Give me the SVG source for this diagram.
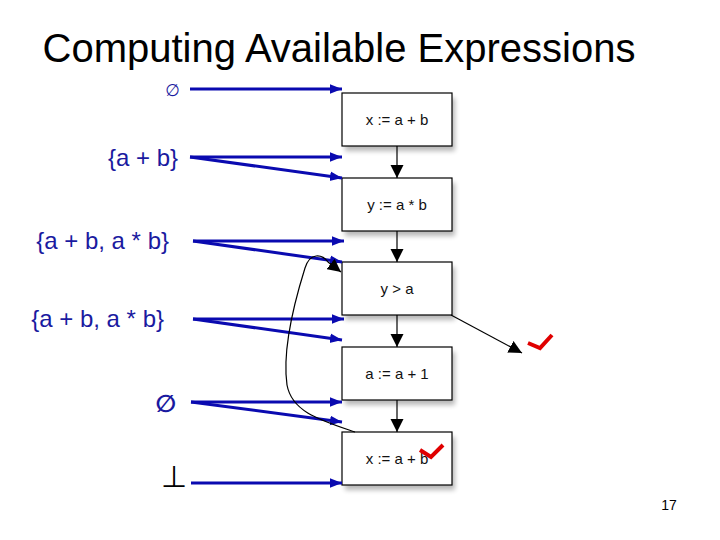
<svg xmlns="http://www.w3.org/2000/svg" width="720" height="540" viewBox="0 0 720 540">
<defs>
<style>
.box{fill:#fff;stroke:#000;stroke-width:1.2}
.sh{fill:#000;opacity:0.28}
.bt{font-family:"Liberation Sans",Arial,sans-serif;font-size:15px;fill:#111;text-anchor:middle}
.lbl{font-family:"Liberation Sans",Arial,sans-serif;font-size:24px;fill:#1a1aa0;text-anchor:end}
.blue{stroke:#0a0ab0;stroke-width:3;fill:none}
.blk{stroke:#000;stroke-width:1.2;fill:none}
.chk{stroke:#e00000;stroke-width:4;fill:none;stroke-linejoin:miter}
</style>
<marker id="ab" viewBox="0 0 10 10" refX="10" refY="5" markerWidth="4" markerHeight="4" markerUnits="strokeWidth" orient="auto"><path d="M0,1 L10,5 L0,9 z" fill="#0a0ab0"/></marker>
<marker id="ak" viewBox="0 0 10 10" refX="10" refY="5" markerWidth="11" markerHeight="11" markerUnits="strokeWidth" orient="auto"><path d="M0,0 L10,5 L0,10 z" fill="#000"/></marker>
<filter id="blur" x="-20%" y="-20%" width="140%" height="160%"><feGaussianBlur stdDeviation="2.5"/></filter>
</defs>
<rect width="720" height="540" fill="#fff"/>
<text x="339" y="62" font-family="'Liberation Sans',Arial,sans-serif" font-size="40" text-anchor="middle" fill="#000">Computing Available Expressions</text>

<g id="n1"><rect class="sh" x="345" y="98" width="110" height="53" filter="url(#blur)"/><rect class="box" x="342" y="93" width="110" height="53"/><text class="bt" x="397" y="125">x := a + b</text></g>
<g id="n2"><rect class="sh" x="345" y="183" width="110" height="53" filter="url(#blur)"/><rect class="box" x="342" y="178" width="110" height="53"/><text class="bt" x="397" y="210">y := a * b</text></g>
<g id="n3"><rect class="sh" x="345" y="267" width="110" height="53" filter="url(#blur)"/><rect class="box" x="342" y="262" width="110" height="53"/><text class="bt" x="397" y="294">y &gt; a</text></g>
<g id="n4"><rect class="sh" x="345" y="352" width="110" height="53" filter="url(#blur)"/><rect class="box" x="342" y="347" width="110" height="53"/><text class="bt" x="397" y="379">a := a + 1</text></g>
<g id="n5"><rect class="sh" x="345" y="437" width="110" height="53" filter="url(#blur)"/><rect class="box" x="342" y="432" width="110" height="53"/><text class="bt" x="397" y="464">x := a + b</text></g>

<g id="labels">
<text x="180" y="96" font-family="'DejaVu Sans',sans-serif" font-size="17" fill="#1a1aa0" text-anchor="end">∅</text>
<text class="lbl" x="178" y="166">{a + b}</text>
<text class="lbl" x="169" y="249">{a + b, a * b}</text>
<text class="lbl" x="164" y="327">{a + b, a * b}</text>
<text x="176" y="412" font-family="'DejaVu Sans',sans-serif" font-size="24" font-weight="bold" fill="#1a1aa0" text-anchor="end">∅</text>
<text x="174" y="487" font-family="'DejaVu Sans',sans-serif" font-size="30" font-weight="200" fill="#000" text-anchor="middle">⊥</text>
<text x="669" y="510" font-family="'Liberation Sans',Arial,sans-serif" font-size="14" fill="#000" text-anchor="middle">17</text>
</g>

<g id="connectors">
<line class="blue" x1="190" y1="89" x2="342" y2="89" marker-end="url(#ab)"/>
<line class="blue" x1="190" y1="157" x2="342" y2="157" marker-end="url(#ab)"/>
<line class="blue" x1="190" y1="157" x2="342" y2="178" marker-end="url(#ab)"/>
<line class="blue" x1="193" y1="241" x2="344" y2="241" marker-end="url(#ab)"/>
<line class="blue" x1="193" y1="241" x2="342" y2="262" marker-end="url(#ab)"/>
<line class="blue" x1="193" y1="319" x2="344" y2="319" marker-end="url(#ab)"/>
<line class="blue" x1="193" y1="319" x2="342" y2="340" marker-end="url(#ab)"/>
<line class="blue" x1="191" y1="402" x2="342" y2="402" marker-end="url(#ab)"/>
<line class="blue" x1="191" y1="402" x2="342" y2="422" marker-end="url(#ab)"/>
<line class="blue" x1="191" y1="483" x2="342" y2="483" marker-end="url(#ab)"/>

<line class="blk" x1="397" y1="146" x2="397" y2="178" marker-end="url(#ak)"/>
<line class="blk" x1="397" y1="231" x2="397" y2="262" marker-end="url(#ak)"/>
<line class="blk" x1="397" y1="315" x2="397" y2="347" marker-end="url(#ak)"/>
<line class="blk" x1="397" y1="400" x2="397" y2="432" marker-end="url(#ak)"/>
<line class="blk" x1="451" y1="315" x2="522" y2="353" marker-end="url(#ak)"/>
<path class="blk" d="M355,432 C320,420 292,412 287,385 C282,350 295,300 305,268 C310,252 322,254 328,262 L341,272" marker-end="url(#ak)"/>

<polyline class="chk" points="528,343 540,348 552,335"/>
<polyline class="chk" points="420,450 431,457 443,445"/>
</g>
</svg>
